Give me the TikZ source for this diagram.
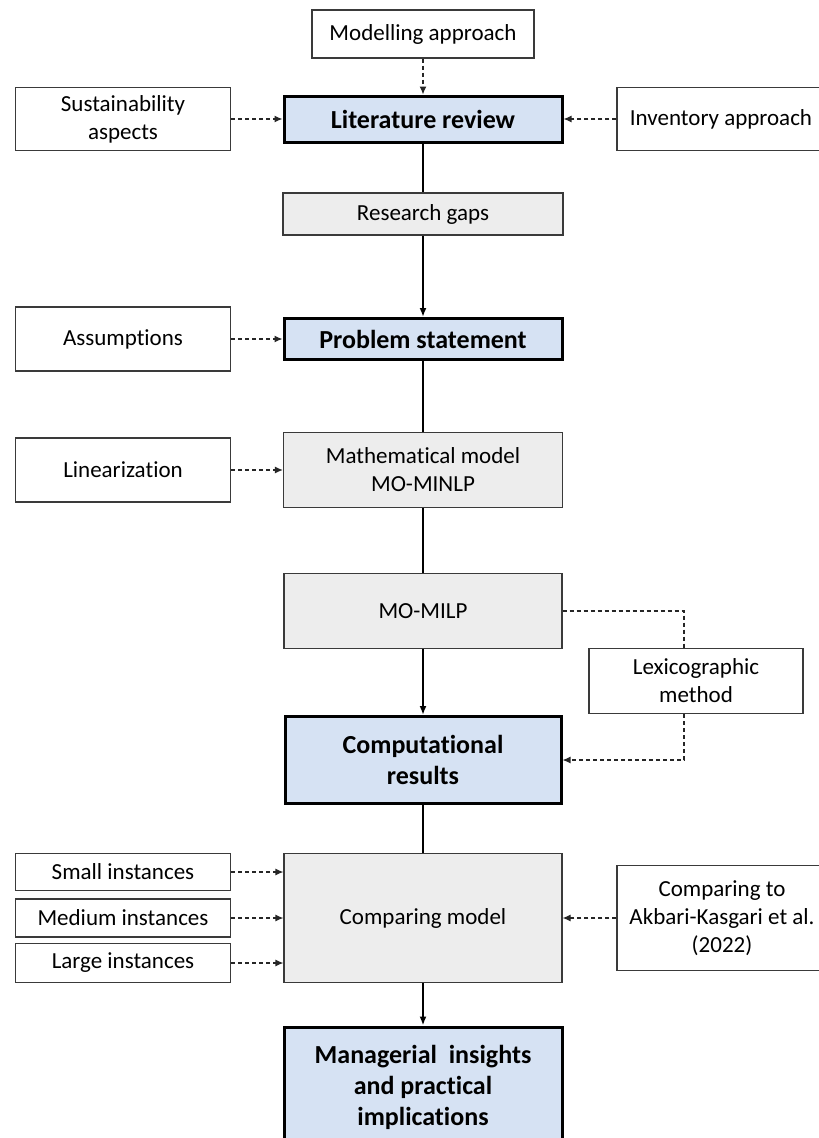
\documentclass[tikz,border=0pt]{standalone}
\usepackage{fontspec}
\setmainfont{Carlito}[Ligatures=NoCommon]
\usetikzlibrary{arrows.meta,calc}
\definecolor{mainblue}{HTML}{D6E2F3}
\definecolor{boxgrey}{HTML}{EDEDED}
\definecolor{edgegrey}{HTML}{3A3A3A}
\begin{document}
\begin{tikzpicture}[x=1pt,y=-1pt,
  sidebox/.style={draw=edgegrey,line width=1.2pt,fill=white,inner sep=0pt,align=center,
    font=\fontsize{23}{28}\selectfont},
  greybox/.style={sidebox,fill=boxgrey},
  mainbox/.style={draw=black,line width=3pt,fill=mainblue,inner sep=0pt,align=center,
    font=\fontsize{26}{31}\selectfont\bfseries},
  flow/.style={line width=1.8pt,draw=black},
  flowarrow/.style={flow,-{Latex[length=9pt,width=7pt]}},
  dashline/.style={line width=1.2pt,draw=black!85,dash pattern=on 4pt off 3pt},
  dasharrow/.style={dashline,-{Latex[length=8pt,width=7pt]}}]
\useasboundingbox (0,0) rectangle (819,1138);
\fill[white] (0,0) rectangle (819,1138);

% main column
\node[sidebox,minimum width=222pt,minimum height=48pt] (model) at (423,34) {Modelling approach};
\node[mainbox,minimum width=278pt,minimum height=46pt] (lit) at (423,119) {Literature review};
\node[sidebox,minimum width=215pt,minimum height=63pt] (sust) at (123,119) {Sustainability\\aspects};
\node[sidebox,minimum width=208pt,minimum height=63pt] (inv) at (721,119) {Inventory approach};
\node[greybox,minimum width=280pt,minimum height=42pt] (gaps) at (423,214) {Research gaps};
\node[mainbox,minimum width=278pt,minimum height=41pt] (prob) at (423,339) {Problem statement};
\node[sidebox,minimum width=215pt,minimum height=64pt] (assum) at (123,339) {Assumptions};
\node[greybox,minimum width=279pt,minimum height=75pt] (math) at (423,470) {Mathematical model\\MO-MINLP};
\node[sidebox,minimum width=215pt,minimum height=64pt] (lin) at (123,470) {Linearization};
\node[greybox,minimum width=278pt,minimum height=75pt] (milp) at (423,611) {MO-MILP};
\node[sidebox,minimum width=214pt,minimum height=65pt] (lex) at (696,681) {Lexicographic\\method};
\node[mainbox,minimum width=276pt,minimum height=87pt] (comp) at (423,760) {Computational\\results};
\node[sidebox,minimum width=215pt,minimum height=37pt] (small) at (123,872) {Small instances};
\node[sidebox,minimum width=215pt,minimum height=38pt] (medium) at (123,918) {Medium instances};
\node[sidebox,minimum width=215pt,minimum height=39pt] (large) at (123,963) {Large instances};
\node[greybox,minimum width=278pt,minimum height=129pt] (cmpm) at (423,918) {Comparing model};
\node[sidebox,minimum width=210pt,minimum height=105pt] (cmpto) at (722,918) {Comparing to\\Akbari-Kasgari et al.\\(2022)};
\node[mainbox,minimum width=278pt,minimum height=120pt] (manag) at (423,1087) {Managerial~ insights\\and practical\\implications};

% main flow
\draw[flow] (lit) -- (gaps);
\draw[flowarrow] (gaps) -- (prob);
\draw[flow] (prob) -- (math);
\draw[flow] (math) -- (milp);
\draw[flowarrow] (milp) -- (comp);
\draw[flow] (comp) -- (cmpm);
\draw[flowarrow] (cmpm) -- (manag);

% dashed inputs
\draw[dasharrow] (model) -- (lit);
\draw[dasharrow] (sust) -- (lit);
\draw[dasharrow] (inv) -- (lit);
\draw[dasharrow] (assum) -- (prob);
\draw[dasharrow] (lin) -- (math);
\draw[dasharrow] (small) -- (small -| cmpm.west);
\draw[dasharrow] (medium) -- (medium -| cmpm.west);
\draw[dasharrow] (large) -- (large -| cmpm.west);
\draw[dasharrow] (cmpto) -- (cmpm);

% lexicographic loop
\coordinate (lexin) at ($(lex.north)+(-12,0)$);
\coordinate (lexout) at ($(lex.south)+(-12,0)$);
\draw[dashline] (milp.east) -| (lexin);
\draw[dasharrow] (lexout) |- (comp.east);
\end{tikzpicture}
\end{document}
